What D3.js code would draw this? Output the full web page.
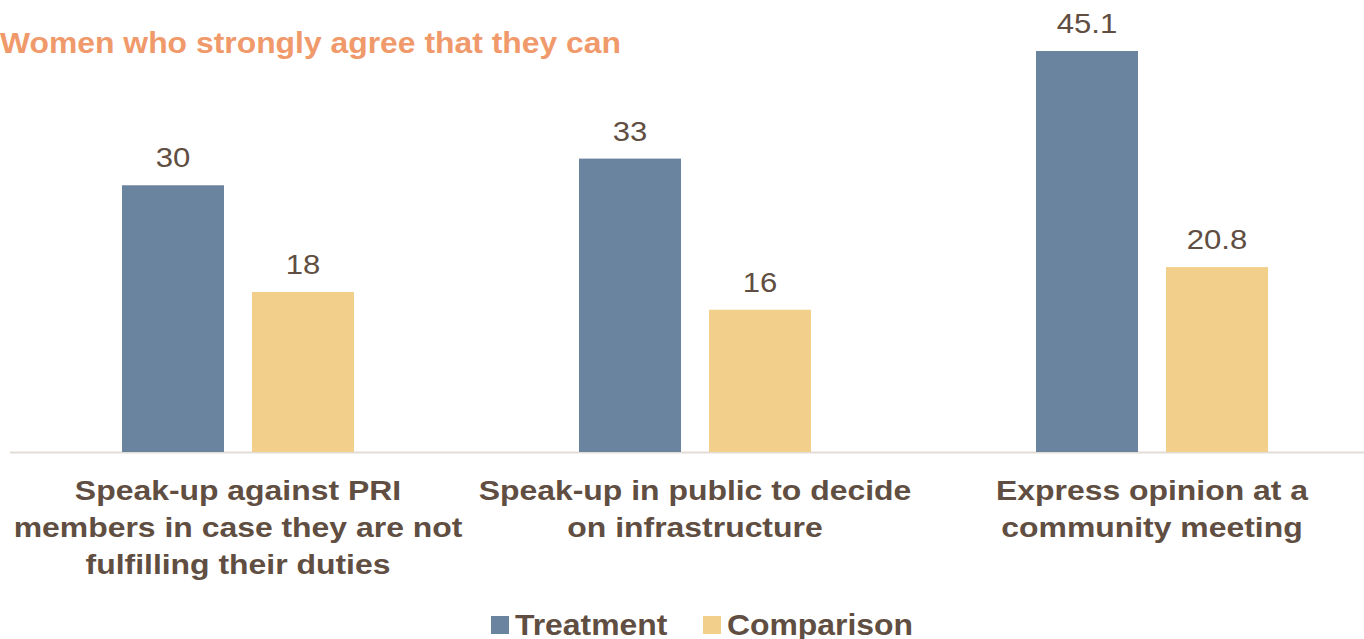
<!DOCTYPE html>
<html lang="en">
  <head>
    <meta charset="UTF-8" />
    <title>Women who strongly agree that they can</title>
    <script src="https://d3js.org/d3.v7.min.js"></script>
    <style>
      body {
        margin: 0;
        background: #fff;
        font-family: "Liberation Sans", Arial, sans-serif;
      }
      svg {
        display: block;
      }
      .title {
        font-size: 29px;
        font-weight: bold;
        fill: #f0996b;
      }
      .value {
        font-size: 28px;
        fill: #5f4e41;
        text-anchor: middle;
      }
      .cat {
        font-size: 28px;
        font-weight: bold;
        fill: #5f4e41;
        text-anchor: middle;
      }
      .legend-text {
        font-size: 29px;
        font-weight: bold;
        fill: #5f4e41;
      }
    </style>
  </head>
  <body>
    <svg id="chart" width="1364" height="639"></svg>

    <script>
      const categories = [
        ["Speak-up against PRI", "members in case they are not", "fulfilling their duties"],
        ["Speak-up in public to decide", "on infrastructure"],
        ["Express opinion at a", "community meeting"],
      ];
      const seriesNames = ["Treatment", "Comparison"];
      const treatment = [30, 33, 45.1];
      const comparison = [18, 16, 20.8];
      const colors = ["#6a84a0", "#f2d08c"];

      const width = 1364,
        height = 639;
      const svg = d3.select("#chart");

      const catKeys = categories.map((c, i) => i);
      const x0 = d3
        .scaleBand()
        .domain(catKeys)
        .range([9.5, 1380.5])
        .paddingInner(1 - 232 / 457)
        .paddingOuter((1 - 232 / 457) / 2);
      const x1 = d3
        .scaleBand()
        .domain(seriesNames)
        .range([0, x0.bandwidth()])
        .paddingInner(28 / 130);
      const y = d3.scaleLinear().domain([0, 45.1]).range([452, 51]);

      const color = d3.scaleOrdinal().domain(seriesNames).range(colors);

      // titre
      svg
        .append("text")
        .attr("class", "title")
        .attr("x", 0)
        .attr("y", 53)
        .attr("textLength", 621)
        .attr("lengthAdjust", "spacingAndGlyphs")
        .text("Women who strongly agree that they can");

      // ligne de base
      svg
        .append("line")
        .attr("x1", 10)
        .attr("x2", width)
        .attr("y1", y(0) + 0.5)
        .attr("y2", y(0) + 0.5)
        .attr("stroke", "#e2ddd8")
        .attr("stroke-width", 2);

      const groups = svg
        .selectAll(".group")
        .data(catKeys)
        .enter()
        .append("g")
        .attr("class", "group")
        .attr("transform", (d) => `translate(${x0(d)},0)`);

      const rows = (i) => [
        { key: "Treatment", value: treatment[i] },
        { key: "Comparison", value: comparison[i] },
      ];

      groups
        .selectAll("rect")
        .data((d) => rows(d))
        .enter()
        .append("rect")
        .attr("x", (d) => x1(d.key))
        .attr("y", (d) => y(d.value))
        .attr("width", x1.bandwidth())
        .attr("height", (d) => y(0) - y(d.value))
        .attr("fill", (d) => color(d.key));

      // valeurs (texte un peu élargi comme dans l'original)
      groups
        .selectAll(".value")
        .data((d) => rows(d))
        .enter()
        .append("text")
        .attr("class", "value")
        .attr(
          "transform",
          (d) =>
            `translate(${x1(d.key) + x1.bandwidth() / 2},${y(d.value) - 18}) scale(1.11,1)`
        )
        .text((d) => d.value);

      // labels des catégories
      groups.each(function (d) {
        const t = d3
          .select(this)
          .append("text")
          .attr("class", "cat")
          .attr("transform", `translate(${x0.bandwidth() / 2},500) scale(1.14,1)`);
        categories[d].forEach((line, k) => {
          t.append("tspan")
            .attr("x", 0)
            .attr("dy", k === 0 ? 0 : 37)
            .text(line);
        });
      });

      // légende
      const legendX = [491, 703];
      const legend = svg
        .selectAll(".legend")
        .data(seriesNames)
        .enter()
        .append("g")
        .attr("class", "legend")
        .attr("transform", (d, i) => `translate(${legendX[i]},616)`);
      legend
        .append("rect")
        .attr("width", 18)
        .attr("height", 18)
        .attr("fill", (d) => color(d));
      legend
        .append("text")
        .attr("class", "legend-text")
        .attr("transform", "translate(24,19) scale(1.1,1)")
        .text((d) => d);
    </script>
  </body>
</html>
